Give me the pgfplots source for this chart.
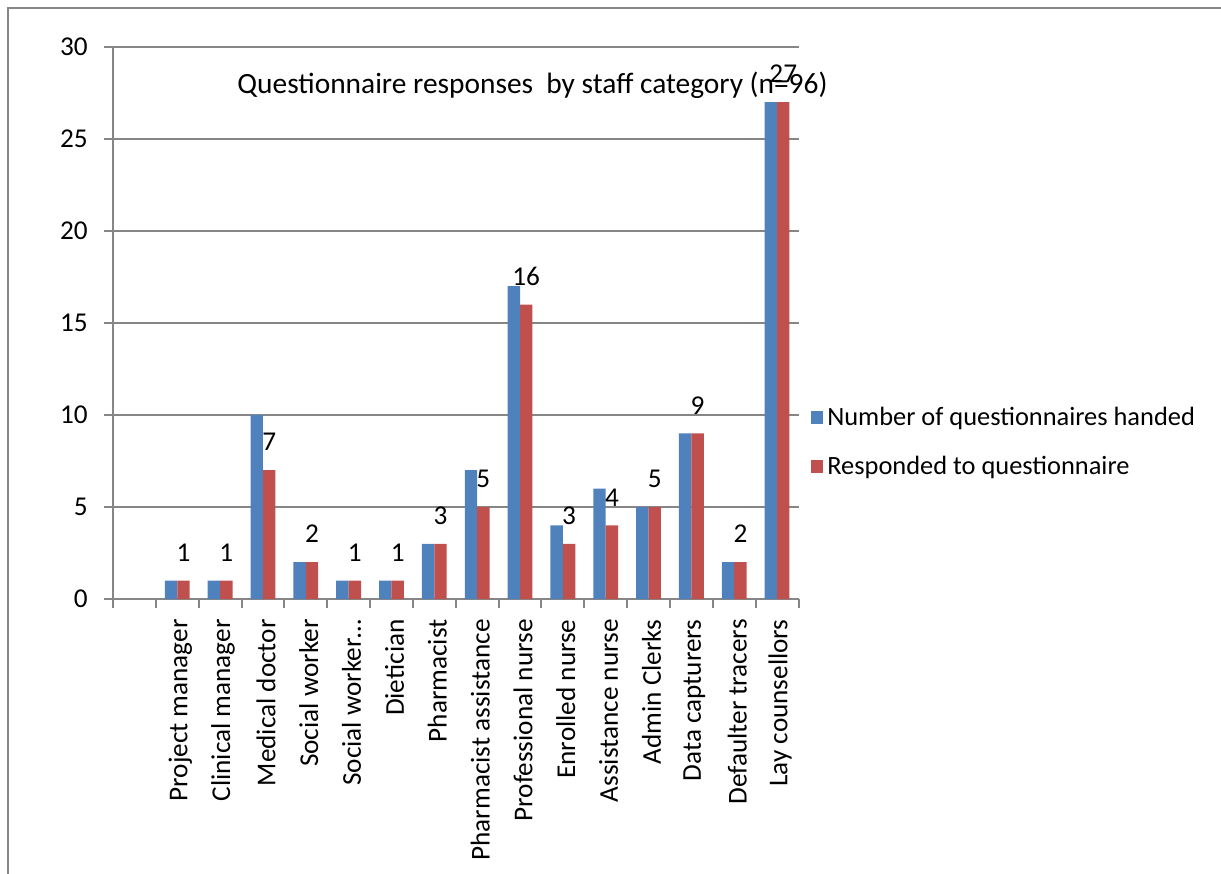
\documentclass[border=0pt]{standalone}
\usepackage{pgfplots}
\pgfplotsset{compat=1.18}
\usepackage{fontspec}
\setmainfont{Carlito}
\definecolor{barblue}{HTML}{4F81BD}
\definecolor{barred}{HTML}{C0504D}
\definecolor{axgray}{HTML}{868686}
\newcommand{\cf}{\fontsize{13.2}{15.8}\selectfont}
\newcommand{\tf}{\fontsize{13.6}{16.3}\selectfont}
\begin{document}
\begin{tikzpicture}
\useasboundingbox (0,0) rectangle (610.5pt,-436.5pt);
\draw[axgray, line width=1pt] (3.75pt,-450pt) -- (3.75pt,-4pt) -- (620pt,-4pt);
\begin{axis}[
  at={(56.5pt,-299.5pt)}, anchor=south west,
  scale only axis, width=342.75pt, height=276pt,
  xmin=-0.5, xmax=15.5, ymin=0, ymax=30,
  ytick={0,5,...,30},
  ymajorgrids, grid style={axgray, line width=1pt},
  axis lines*=left,
  axis line style={axgray, line width=1pt, -},
  tick align=outside,
  major tick length=4.5pt, minor tick length=4.5pt,
  tick style={axgray, line width=1pt},
  xtick={1,...,15},
  xticklabels={Project manager,Clinical manager,Medical doctor,Social worker,Social worker…,Dietician,Pharmacist,Pharmacist assistance,Professional nurse,Enrolled nurse,Assistance nurse,Admin Clerks,Data capturers,Defaulter tracers,Lay counsellors},
  major x tick style={draw=none},
  minor xtick={-0.5,0.5,...,15.5},
  /pgf/number format/assume math mode=true,
  ticklabel style={font=\tf, inner sep=0pt},
  xticklabel style={xshift=1.5pt, yshift=-5.5pt, rotate=90, anchor=east},
  yticklabel style={anchor=east, xshift=-8pt},
  ybar=0pt, bar width=6.2pt,
  legend style={at={(1.0175,0.2844)}, anchor=west, draw=none, fill=none, inner sep=0pt, font=\cf, row sep=10pt, /tikz/every even column/.append style={column sep=8pt}},
  legend cell align=left,
  legend image code/.code={\fill[#1] (0pt,-3.1pt) rectangle (6.2pt,3.1pt);},
]
\addplot[fill=barblue, draw=none] coordinates {(1,1) (2,1) (3,10) (4,2) (5,1) (6,1) (7,3) (8,7) (9,17) (10,4) (11,6) (12,5) (13,9) (14,2) (15,27)};
\addlegendentry{Number of questionnaires handed}
\addplot[fill=barred, draw=none, nodes near coords, every node near coord/.append style={font=\tf, anchor=south, inner sep=0pt, yshift=9.5pt, text=black}] coordinates {(1,1) (2,1) (3,7) (4,2) (5,1) (6,1) (7,3) (8,5) (9,16) (10,3) (11,4) (12,5) (13,9) (14,2) (15,27)};
\addlegendentry{Responded to questionnaire}
\end{axis}
\node[font=\fontsize{14.7}{17.6}\selectfont, inner sep=0pt, anchor=west] at (118.5pt,-42.5pt) {Questionnaire responses\ \ by staff category (n=96)};
\end{tikzpicture}
\end{document}
